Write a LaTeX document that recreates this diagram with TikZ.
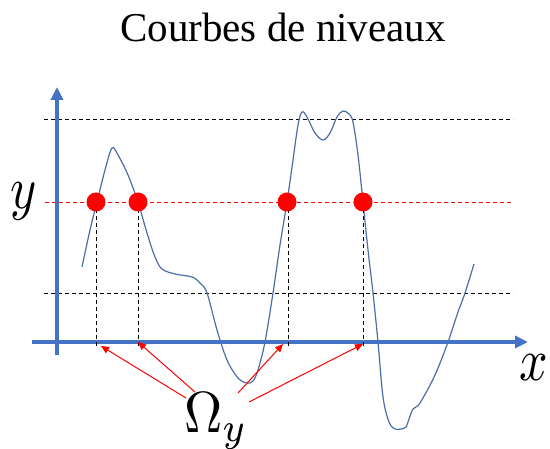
\documentclass[tikz,border=0pt]{standalone}
\usepackage{fontspec}
\newfontfamily\titlefont{Liberation Serif}
\usetikzlibrary{arrows.meta}
\definecolor{axisblue}{HTML}{4472C4}
\definecolor{curveblue}{HTML}{4A6FA8}
\tikzset{
  axisline/.style={draw=axisblue, line width=3.6pt, -{Triangle[length=13pt,width=12pt]}},
  levelline/.style={draw=black, line width=0.9pt, dash pattern=on 4pt off 3pt},
  redlevel/.style={draw=red, line width=0.9pt, dash pattern=on 4pt off 3pt},
  dropline/.style={draw=black, line width=0.9pt, dash pattern=on 4pt off 3pt},
  dot/.style={circle, fill=red, minimum size=19pt, inner sep=0pt},
  pointer/.style={draw=red, line width=1pt, -{Triangle[length=8pt,width=7pt]}},
  curve/.style={draw=curveblue, line width=1.2pt},
  biglabel/.style={inner sep=0pt}
}
\begin{document}
\begin{tikzpicture}[x=1pt,y=-1pt]
\useasboundingbox (0,0) rectangle (550,449);
% title
\node[anchor=base, inner sep=0pt, font=\titlefont\fontsize{41}{48}\selectfont] (title) at (283,42) {Courbes de niveaux};
% level lines
\coordinate (t1) at (44,119); \coordinate (t2) at (513,119);
\coordinate (b1) at (44,293); \coordinate (b2) at (513,293);
\coordinate (r1) at (45,202); \coordinate (r2) at (513,202);
\draw[levelline] (t1) -- (t2);
\draw[levelline] (b1) -- (b2);
\draw[redlevel] (r1) -- (r2);
% curve
\draw[curve] plot[smooth, tension=0.55] coordinates {
(82,267) (90,230) (97,202) (105,170) (112,148) (118,155) (128,175) (138,202) (147,233) (155,257) (162,269) (175,274) (192,277) (200,283) (207,293) (217,330) (227,360) (238,378) (247,383) (253,381) (258,370) (265,342) (273,293) (280,245) (287,202) (293,160) (298,125) (302,112) (307,117) (315,133) (323,140) (330,133) (337,117) (343,111) (349,114) (353,122) (358,155) (363,202) (368,250) (373,293) (378,342) (383,397) (389,422) (395,429) (401,429) (406,427) (409,419) (413,409) (420,403) (435,375) (448,342) (458,312) (465,293) (474,264)};
% axes
\coordinate (xa0) at (32,342); \coordinate (xa1) at (528,342);
\coordinate (ya0) at (57,355); \coordinate (ya1) at (57,87);
\draw[axisline] (xa0) -- (xa1);
\draw[axisline] (ya0) -- (ya1);
% dots and drop lines
\coordinate (f1) at (96,347); \coordinate (f2) at (138,347);
\coordinate (f3) at (288,347); \coordinate (f4) at (363,347);
\draw[dropline] (96,202) -- (f1);
\draw[dropline] (138,202) -- (f2);
\draw[dropline] (288,202) -- (f3);
\draw[dropline] (363,202) -- (f4);
\node[dot] (d1) at (96,202) {};
\node[dot] (d2) at (138,202) {};
\node[dot] (d3) at (287,202) {};
\node[dot] (d4) at (363,202) {};
% labels
\node[biglabel] (ylab) at (24,201) {\scalebox{5}[6]{$y$}};
\node[biglabel] (xlab) at (534,368) {\scalebox{5}[6]{$x$}};
\node[biglabel, anchor=base west] (om) at (184,433) {\scalebox{5.3}[5.8]{$\Omega_y$}};
% pointers
\coordinate (s1) at (186,398); \coordinate (e1) at (101,346);
\coordinate (s2) at (195,392); \coordinate (e2) at (138,342);
\coordinate (s3) at (238,393); \coordinate (e3) at (283,344);
\coordinate (s4) at (249,402); \coordinate (e4) at (363,344);
\draw[pointer] (s1) -- (e1);
\draw[pointer] (s2) -- (e2);
\draw[pointer] (s3) -- (e3);
\draw[pointer] (s4) -- (e4);
\end{tikzpicture}
\end{document}
